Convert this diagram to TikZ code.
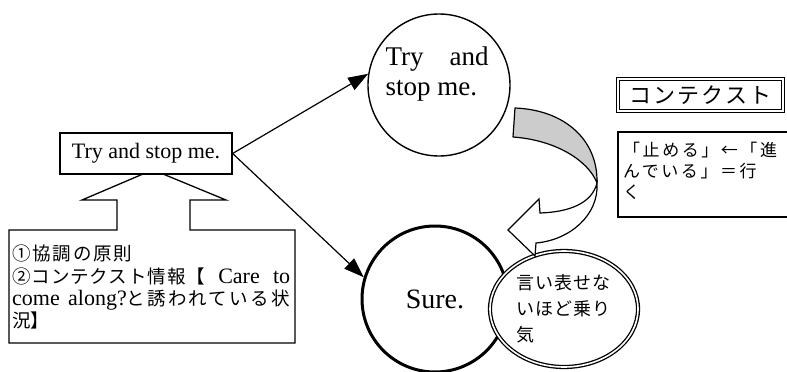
\documentclass[tikz,border=0pt]{standalone}
\usepackage{fontspec}
\usetikzlibrary{arrows.meta,shapes.geometric}
\setmainfont{Liberation Serif}
\newfontfamily\jpg[LetterSpace=5]{Noto Sans CJK JP}
\newfontfamily\jph[LetterSpace=10]{Noto Sans CJK JP}
\newfontfamily\jpm[LetterSpace=6]{Noto Sans CJK JP}
\newfontfamily\jpw[LetterSpace=13]{Noto Sans CJK JP}
\newfontfamily\jpx[LetterSpace=15]{Noto Sans CJK JP}

\begin{document}
\begin{tikzpicture}[x=1pt, y=-1pt,
	box/.style={draw, line width=1.3pt, inner sep=0pt},
	link/.style={line width=1.2pt, -{Triangle[length=20pt, width=14pt]}}]
	\useasboundingbox (0,0) rectangle (787,372);
	% the utterance and its two readings
	\node[box, minimum width=172pt, minimum height=41pt, font=\fontsize{22}{25}\selectfont] (tsm) at (146,153.5) {Try and stop me.};
	\node[circle, draw, line width=1.4pt, minimum size=142pt, inner sep=0pt] (tryc) at (439,85) {};
	\node[align=left, inner sep=0pt, font=\fontsize{27}{30}\selectfont] (trytxt) at (437,74) {\makebox[103pt][s]{Try and}\\stop me.};
	\node[circle, draw, line width=3pt, minimum size=146pt, inner sep=0pt, font=\fontsize{28}{30}\selectfont] (sure) at (435,299) {Sure.};
	\draw[link] (tsm.east) -- (tryc.171);
	\draw[link] (tsm.east) -- (sure.163);
	% bubble over the answer
	\node[ellipse, draw, double, double distance=1.6pt, line width=1.3pt, fill=white, minimum width=148pt, minimum height=116pt, inner sep=0pt] (keen) at (564,309) {};
	\node[text width=96pt, align=left, inner sep=0pt, font=\fontsize{18}{26}\selectfont\jpm] (keentxt) at (keen) {言い表せな\\いほど乗り\\気};
	% twisted arrow into the bubble
	\filldraw[fill=gray!40, line width=1.2pt, line join=round] (515,108) .. controls (565,110) and (598,140) .. (597,183) .. controls (588,160) and (555,140) .. (513,137) -- cycle;
	\filldraw[fill=white, line width=1.2pt] (597,183) .. controls (599,215) and (570,240) .. (536,243) -- (535,256) -- (508,230) -- (539,199) -- (540,213) .. controls (570,212) and (592,203) .. (597,183) -- cycle;
	% what the reading rests on
	\draw[line width=1.3pt] (9,230) -- (117,230) -- (117,200) -- (82,200) -- (143,174) -- (163,174) -- (226,200) -- (190,200) -- (190,230) -- (295,230) -- (295,343) -- (9,343) -- cycle;
	\node[anchor=north west, text width=278pt, align=left, inner sep=0pt, font=\fontsize{18.5}{22.3}\selectfont] (basis) at (12,245) {{\jph ①協調の原則}\\
		{\jpg ②コンテクスト情報【}\hfill{\fontsize{22}{22.3}\selectfont Care\hfill to}\\
		{\fontsize{22}{22.3}\selectfont come\hfill along?}{\jpw と誘われている状}\\
		{\jpw 況}{\jpg 】}};
	% context
	\node[draw, double, double distance=1.5pt, line width=1pt, minimum width=165pt, minimum height=32pt, inner sep=0pt, font=\fontsize{22}{26}\selectfont\jph] (ctx) at (700.5,95) {コンテクスト};
	\draw[line width=1.3pt] (787,132) -- (618,132) -- (618,217) -- (787,217);
	\node[anchor=north west, inner sep=0pt, align=left, font=\fontsize{17}{21}\selectfont\jpx] (ctxnote) at (623,142) {「止める」←「進\\んでいる」＝行\\く};
\end{tikzpicture}
\end{document}
